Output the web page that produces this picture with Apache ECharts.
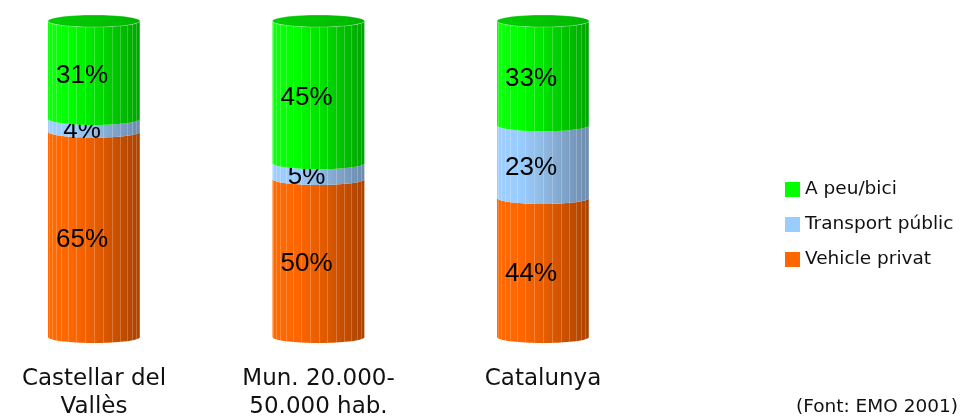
<!DOCTYPE html>
<html>
<head>
<meta charset="utf-8">
<script src="https://cdn.jsdelivr.net/npm/echarts@6/dist/echarts.min.js"></script>
<style>
  html, body { margin: 0; padding: 0; background: #fff; }
  #chart { width: 960px; height: 419px; }
</style>
</head>
<body>
<div id="chart"></div>
<script>
// Modal split of daily trips (%)
var categories = ['Castellar del\nVallès', 'Mun. 20.000-\n50.000 hab.', 'Catalunya'];
var seriesNames = ['Vehicle privat', 'Transport públic', 'A peu/bici'];
var vehiclePrivat = [65, 50, 44];
var transportPublic = [4, 5, 23];
var apeuBici = [31, 45, 33];
var sourceNote = '(Font: EMO 2001)';

var seriesValues = [vehiclePrivat, transportPublic, apeuBici];

// colour ramps across the cylinder face: light on the left, shaded on the right
var ramps = [
  { legend: '#FF6600', stops: ['#FF6A00', '#FF6600', '#E85E00', '#C94F00', '#AA4300'] },
  { legend: '#99CCFF', stops: ['#9FCFFF', '#99CCFF', '#8FBAE4', '#7EA1C6', '#6C8BAD'] },
  { legend: '#00FF00', stops: ['#10FF10', '#00FF00', '#00E400', '#00C400', '#00A400'] }
];
var capStops = ['#00CC00', '#00C400', '#00B400'];

var RX = 46, RY = 6, STRIPES = 16;

function ramp(stops) {
  var n = stops.length - 1;
  return new echarts.graphic.LinearGradient(0, 0, 1, 0, stops.map(function (c, i) {
    return { offset: i / n, color: c };
  }));
}

function buildSeries(si) {
  var data = categories.map(function (c, ci) {
    var base = 0;
    for (var k = 0; k < si; k++) base += seriesValues[k][ci];
    return [ci, base, base + seriesValues[si][ci]];
  });
  var isTop = si === seriesValues.length - 1;
  return {
    type: 'custom',
    name: seriesNames[si],
    itemStyle: { color: ramps[si].legend },
    data: data,
    encode: { x: 0, y: [1, 2] },
    renderItem: function (params, api) {
      var ci = api.value(0);
      var lo = api.value(1), hi = api.value(2);
      var pBot = api.coord([ci, lo]);
      var pTop = api.coord([ci, hi]);
      var cx = pBot[0], yBot = pBot[1], yTop = pTop[1];
      var pts = [];
      var N = 40, t, a;
      for (t = 0; t <= N; t++) {
        a = Math.PI * t / N;
        pts.push([cx - RX * Math.cos(a), yTop + RY * Math.sin(a)]);
      }
      for (t = N; t >= 0; t--) {
        a = Math.PI * t / N;
        pts.push([cx - RX * Math.cos(a), yBot + RY * Math.sin(a)]);
      }
      var children = [{
        type: 'polygon',
        shape: { points: pts },
        style: { fill: ramp(ramps[si].stops) }
      }];
      // facet lines of the cylinder surface
      for (var s = 1; s < STRIPES; s++) {
        a = Math.PI * s / STRIPES;
        var x = Math.round(cx - RX * Math.cos(a)) + 0.5;
        var dy = RY * Math.sin(a);
        children.push({
          type: 'line',
          shape: { x1: x, y1: yTop + dy, x2: x, y2: yBot + dy },
          style: { stroke: 'rgba(255,255,255,0.22)', lineWidth: 1 }
        });
      }
      if (isTop) {
        children.push({
          type: 'ellipse',
          shape: { cx: cx, cy: yTop, rx: RX, ry: RY },
          style: { fill: ramp(capStops), stroke: 'rgba(255,255,255,0.25)', lineWidth: 1 }
        });
      }
      children.push({
        type: 'text',
        style: {
          text: seriesValues[si][ci] + '%',
          x: cx - 12,
          y: (yTop + yBot) / 2 + 6,
          align: 'center',
          verticalAlign: 'middle',
          fill: '#000',
          font: '26px "Liberation Sans", Arial, sans-serif'
        }
      });
      return { type: 'group', children: children };
    }
  };
}

var chart = echarts.init(document.getElementById('chart'), null, { renderer: 'canvas' });
chart.setOption({
  animation: false,
  backgroundColor: '#ffffff',
  grid: { left: 94, width: 449, top: 21, height: 316, containLabel: false, outerBoundsMode: 'none' },
  xAxis: {
    type: 'category',
    data: categories,
    boundaryGap: false,
    axisLine: { show: false },
    axisTick: { show: false },
    splitLine: { show: false },
    axisLabel: {
      interval: 0,
      margin: 28,
      color: '#111',
      fontFamily: '"DejaVu Sans", Verdana, sans-serif',
      fontSize: 23,
      lineHeight: 28,
      align: 'center'
    }
  },
  yAxis: { type: 'value', min: 0, max: 100, show: false },
  legend: {
    orient: 'vertical',
    left: 785,
    top: 180,
    padding: 0,
    itemWidth: 15,
    itemHeight: 15,
    itemGap: 16,
    icon: 'rect',
    data: ['A peu/bici', 'Transport públic', 'Vehicle privat'],
    textStyle: {
      color: '#111',
      fontFamily: '"DejaVu Sans", Verdana, sans-serif',
      fontSize: 18.5
    }
  },
  graphic: [{
    type: 'text',
    right: 2,
    top: 398,
    style: {
      text: sourceNote,
      fill: '#111',
      font: '18.5px "DejaVu Sans", Verdana, sans-serif'
    }
  }],
  series: [buildSeries(0), buildSeries(1), buildSeries(2)]
});
</script>
</body>
</html>
